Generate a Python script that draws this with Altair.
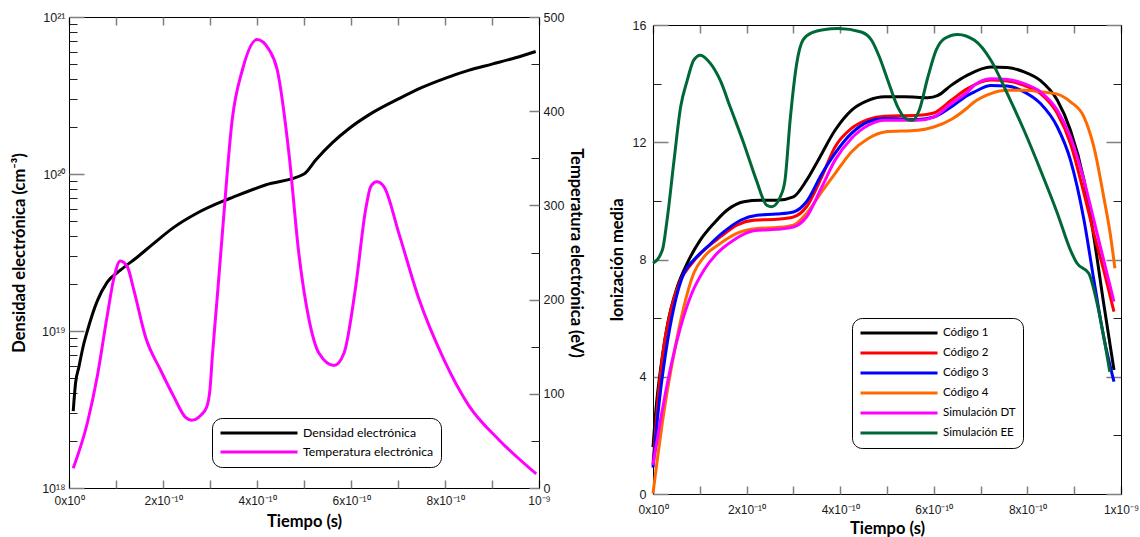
import altair as alt
import pandas as pd

# ---------------- Left panel data (time in units of 1e-10 s) ----------------
t_dens = [0.09, 0.14, 0.21, 0.30, 0.39, 0.60, 0.81, 1.10, 1.45, 1.81, 2.23, 2.72, 3.30,
          3.47, 4.18, 5.00, 5.25, 5.60, 5.96, 6.45, 7.02, 7.50, 8.00, 8.50, 9.00, 9.50, 9.93]
n_dens = [3.09e18, 4.68e18, 5.89e18, 7.94e18, 1.00e19, 1.55e19, 2.04e19, 2.45e19, 2.95e19,
          3.63e19, 4.57e19, 5.62e19, 6.76e19, 7.08e19, 8.51e19, 1.00e20, 1.23e20, 1.58e20,
          1.95e20, 2.45e20, 3.02e20, 3.55e20, 4.07e20, 4.57e20, 5.01e20, 5.50e20, 6.03e20]

t_temp = [0.09, 0.39, 0.60, 0.81, 0.96, 1.09, 1.24, 1.38, 1.63, 1.95, 2.23, 2.48, 2.61, 2.80,
          2.93, 3.00, 3.05, 3.15, 3.28, 3.47, 3.69, 4.00, 4.26, 4.43, 4.68, 4.89, 5.11, 5.32,
          5.64, 5.85, 6.10, 6.31, 6.42, 6.55, 6.70, 7.02, 7.45, 7.98, 8.50, 9.15, 9.94]
T_temp = [21, 69, 118, 182, 224, 241, 235, 210, 160, 125, 97, 75, 72, 77,
          86, 105, 140, 200, 281, 390, 444, 476, 465, 444, 355, 249, 178, 143,
          130, 143, 214, 295, 320, 325, 320, 270, 200, 136, 88, 51, 15]

left_series = ["Densidad electrónica", "Temperatura electrónica"]
left_colors = ["#000000", "#ff00ff"]

# ---------------- Right panel data ----------------
t_c1 = [0, 0.07, 0.16, 0.30, 0.52, 0.73, 1.01, 1.30, 1.58, 1.94, 2.29, 2.64, 3.00, 3.28, 3.53,
        3.89, 4.24, 4.60, 4.95, 5.38, 5.87, 6.09, 6.37, 6.72, 7.22, 7.57, 7.93, 8.28, 8.64,
        8.92, 9.21, 9.42, 9.63, 9.85]
v_c1 = [1.6, 3.0, 4.23, 5.7, 7.07, 7.87, 8.66, 9.23, 9.68, 9.97, 10.02, 10.02, 10.14, 10.7,
        11.39, 12.41, 13.09, 13.43, 13.55, 13.55, 13.52, 13.6, 13.94, 14.29, 14.57, 14.55,
        14.4, 14.1, 13.43, 12.41, 10.7, 8.77, 6.5, 4.23]

t_c2 = [0, 0.13, 0.23, 0.38, 0.59, 0.80, 1.09, 1.44, 1.79, 2.15, 2.64, 3.00, 3.28, 3.60, 3.89,
        4.24, 4.60, 4.95, 5.66, 6.00, 6.37, 6.72, 7.22, 7.57, 7.93, 8.28, 8.64, 8.92, 9.21,
        9.42, 9.63, 9.85]
v_c2 = [1.0, 3.66, 5.02, 6.27, 7.3, 7.81, 8.32, 8.77, 9.17, 9.34, 9.37, 9.45, 9.8, 10.8, 11.84,
        12.47, 12.78, 12.89, 12.92, 13.0, 13.43, 13.83, 14.12, 14.09, 13.94, 13.66, 12.98,
        11.96, 10.25, 8.89, 7.64, 6.22]

t_c3 = [0, 0.13, 0.27, 0.45, 0.66, 0.87, 1.16, 1.51, 1.87, 2.22, 2.64, 3.00, 3.28, 3.60, 3.89,
        4.24, 4.60, 4.95, 5.66, 6.00, 6.37, 6.72, 6.87, 7.22, 7.57, 7.93, 8.28, 8.64, 8.92,
        9.21, 9.42, 9.63, 9.85]
v_c3 = [0.9, 3.1, 4.8, 6.39, 7.53, 7.98, 8.43, 8.94, 9.34, 9.51, 9.55, 9.62, 9.97, 10.9, 11.62,
        12.3, 12.7, 12.81, 12.78, 12.86, 13.2, 13.6, 13.72, 13.94, 13.92, 13.72, 13.32, 12.52,
        11.39, 9.34, 7.3, 5.36, 3.83]

t_c4 = [0, 0.23, 0.45, 0.66, 0.87, 1.09, 1.44, 1.79, 2.22, 2.64, 3.00, 3.28, 3.60, 3.89, 4.24,
        4.60, 4.95, 5.66, 6.00, 6.40, 6.70, 6.87, 7.22, 7.57, 7.93, 8.28, 8.64, 8.92, 9.21,
        9.42, 9.63, 9.78, 9.87]
v_c4 = [0.02, 2.76, 4.8, 6.39, 7.53, 8.09, 8.55, 8.89, 9.06, 9.09, 9.17, 9.57, 10.3, 10.93,
        11.67, 12.13, 12.35, 12.41, 12.52, 12.8, 13.15, 13.38, 13.66, 13.77, 13.77, 13.72,
        13.64, 13.38, 12.86, 11.84, 10.14, 8.77, 7.7]

t_dt = [0, 0.16, 0.38, 0.59, 0.80, 1.09, 1.37, 1.72, 2.15, 2.64, 3.00, 3.28, 3.60, 3.89, 4.24,
        4.60, 4.95, 5.66, 6.00, 6.37, 6.72, 6.87, 7.22, 7.57, 7.93, 8.28, 8.64, 8.92, 9.21,
        9.42, 9.63, 9.85]
v_dt = [0.99, 2.52, 4.34, 5.7, 6.73, 7.64, 8.21, 8.66, 8.98, 9.03, 9.11, 9.45, 10.45, 11.39,
        12.13, 12.58, 12.75, 12.75, 12.86, 13.32, 13.72, 13.95, 14.17, 14.14, 14.0, 13.72,
        13.09, 12.18, 10.7, 9.34, 7.98, 6.56]

t_ee = [0, 0.20, 0.30, 0.45, 0.59, 0.73, 0.87, 1.01, 1.23, 1.44, 1.65, 1.94, 2.21, 2.43, 2.54,
        2.72, 2.82, 2.93, 3.07, 3.21, 3.43, 3.64, 3.96, 4.45, 4.67, 4.84, 5.02, 5.23, 5.41,
        5.55, 5.69, 5.87, 6.05, 6.23, 6.51, 6.87, 7.22, 7.57, 7.93, 8.28, 8.64, 8.92, 9.06,
        9.31, 9.49, 9.63, 9.76]
v_ee = [7.87, 8.32, 9.34, 11.39, 13.2, 14.1, 14.8, 14.97, 14.68, 14.1, 13.2, 11.96, 10.7, 9.85,
        9.8, 10.14, 10.7, 12.75, 14.68, 15.5, 15.76, 15.84, 15.88, 15.76, 15.48, 14.9, 14.1,
        13.2, 12.8, 12.75, 13.1, 14.2, 15.14, 15.54, 15.68, 15.48, 14.8, 13.66, 12.4, 11.05,
        9.58, 8.32, 7.87, 7.53, 6.5, 5.37, 4.17]

right_series = ["Código 1", "Código 2", "Código 3", "Código 4", "Simulación DT", "Simulación EE"]
right_colors = ["#000000", "#ff0000", "#0000ff", "#ff6a00", "#ff00ff", "#006837"]

# ---------------- Ticks and labels ----------------
x_tick_values = [0, 2, 4, 6, 8, 10]
x_minor_values = [0, 1, 2, 3, 4, 5, 6, 7, 8, 9, 10]
x_labels_left = ["0x10⁰", "2x10⁻¹⁰", "4x10⁻¹⁰", "6x10⁻¹⁰", "8x10⁻¹⁰", "10⁻⁹"]
x_labels_right = ["0x10⁰", "2x10⁻¹⁰", "4x10⁻¹⁰", "6x10⁻¹⁰", "8x10⁻¹⁰", "1x10⁻⁹"]
dens_tick_values = [1e18, 1e19, 1e20, 1e21]
dens_tick_labels = ["10¹⁸", "10¹⁹", "10²⁰", "10²¹"]
dens_minor_values = [m * 10.0 ** e for e in (18, 19, 20) for m in range(2, 10)]
temp_tick_values = [0, 100, 200, 300, 400, 500]
temp_minor_values = [50, 150, 250, 350, 450]
ion_tick_values = [0, 4, 8, 12, 16]
ion_minor_values = [2, 6, 10, 14]

LABEL_FONT = "Liberation Sans"
TITLE_FONT = "Lato"
TITLE_SIZE = 16.5


def label_expr(values, labels):
    vals = ",".join(str(v) for v in values)
    labs = ",".join("'" + s + "'" for s in labels)
    return f"[{labs}][indexof([{vals}], datum.value)]"


def dens_label_expr():
    parts = "datum.value >= 1e21 ? '%s' : datum.value >= 1e20 ? '%s' : datum.value >= 1e19 ? '%s' : '%s'"
    return parts % (dens_tick_labels[3], dens_tick_labels[2], dens_tick_labels[1], dens_tick_labels[0])


def tick_axis(orient, offset, values, size, color="#7f7f7f", width=1.5, domain=False):
    return alt.Axis(orient=orient, offset=offset, values=values, labels=False, domain=domain,
                    domainColor="#000000", domainWidth=1,
                    ticks=True, tickSize=size, tickColor=color, tickWidth=width, grid=False,
                    title=None)


def main_axis(orient, values, expr, title, label_pad=4, title_pad=6, label_size=12.5):
    return alt.Axis(orient=orient, values=values, labelExpr=expr, ticks=False, grid=False,
                    domain=True, domainColor="#000000", domainWidth=1, labelFlush=False,
                    labelFont=LABEL_FONT, labelFontSize=label_size, labelColor="#1a1a1a",
                    labelPadding=label_pad, title=title, titleFont=TITLE_FONT,
                    titleFontSize=TITLE_SIZE, titleFontWeight="bold", titleColor="#000000",
                    titlePadding=title_pad)


def legend(x, y, row_pad, font_size):
    return alt.Legend(orient="none", legendX=x, legendY=y, title=None,
                      strokeColor="#000000", cornerRadius=10, padding=7,
                      fillColor="#ffffff", symbolType="stroke",
                      symbolSize=5929, symbolStrokeWidth=3, clipHeight=16,
                      rowPadding=row_pad, labelFont=TITLE_FONT, labelFontSize=font_size,
                      labelOffset=4, labelLimit=300, labelColor="#000000")


# ---------------- Left panel ----------------
W1, H1 = 470, 471
dens_df = pd.DataFrame({"t": t_dens, "v": n_dens, "serie": left_series[0]})
temp_df = pd.DataFrame({"t": t_temp, "v": T_temp, "serie": left_series[1]})

xs1 = alt.Scale(domain=[0, 10], nice=False, zero=False)
ys_dens = alt.Scale(type="log", domain=[1e18, 1e21], nice=False)
ys_temp = alt.Scale(domain=[0, 500], nice=False, zero=False)
color_left = alt.Color("serie:N", scale=alt.Scale(domain=left_series, range=left_colors),
                       legend=legend(143, 401, 3, 12.3))

dens_line = alt.Chart(dens_df).mark_line(strokeWidth=3, interpolate="monotone").encode(
    x=alt.X("t:Q", scale=xs1, axis=main_axis("bottom", x_tick_values,
                                              label_expr(x_tick_values, x_labels_left),
                                              "Tiempo (s)", 7, 7, 12)),
    y=alt.Y("v:Q", scale=ys_dens, axis=main_axis("left", dens_tick_values, dens_label_expr(),
                                                 "Densidad electrónica (cm⁻³)", 4, 14)),
    color=color_left,
)
dens_ticks_a = alt.Chart(dens_df).mark_line(strokeOpacity=0).encode(
    x=alt.X("t:Q", scale=xs1, axis=tick_axis("top", -H1, x_minor_values, 8)),
    y=alt.Y("v:Q", scale=ys_dens, axis=tick_axis("right", -W1, dens_tick_values, 15)),
)
dens_ticks_b = alt.Chart(dens_df).mark_line(strokeOpacity=0).encode(
    x=alt.X("t:Q", scale=xs1, axis=tick_axis("bottom", -H1, x_minor_values, 8)),
    y=alt.Y("v:Q", scale=ys_dens, axis=tick_axis("right", -W1, dens_minor_values, 8, "#222222", 1)),
)
dens_layer = alt.layer(dens_line, dens_ticks_a, dens_ticks_b)

temp_line = alt.Chart(temp_df).mark_line(strokeWidth=3, interpolate="monotone").encode(
    x=alt.X("t:Q", scale=xs1, axis=None),
    y=alt.Y("v:Q", scale=ys_temp, axis=main_axis("right", temp_tick_values, "datum.value",
                                                 "Temperatura electrónica (eV)", 4, 4)),
    color=color_left,
)
temp_ticks_a = alt.Chart(temp_df).mark_line(strokeOpacity=0).encode(
    x=alt.X("t:Q", scale=xs1, axis=None),
    y=alt.Y("v:Q", scale=ys_temp, axis=tick_axis("left", -W1, temp_tick_values, 10)),
)
temp_ticks_b = alt.Chart(temp_df).mark_line(strokeOpacity=0).encode(
    x=alt.X("t:Q", scale=xs1, axis=None),
    y=alt.Y("v:Q", scale=ys_temp, axis=tick_axis("left", -W1, temp_minor_values, 8, "#222222", 1)),
)
temp_layer = alt.layer(temp_line, temp_ticks_a, temp_ticks_b)

left = alt.layer(dens_layer, temp_layer).resolve_scale(y="independent").properties(
    width=W1, height=H1)

# ---------------- Right panel ----------------
# the plot frame of this panel starts TOP2 px lower than the left one
W2, H2, TOP2 = 468, 477, 8
frames = []
for name, tt, vv in zip(right_series, [t_c1, t_c2, t_c3, t_c4, t_dt, t_ee],
                        [v_c1, v_c2, v_c3, v_c4, v_dt, v_ee]):
    frames.append(pd.DataFrame({"t": tt, "v": vv, "serie": name}))
ion_df = pd.concat(frames, ignore_index=True)

xs2 = alt.Scale(domain=[0, 10], nice=False, zero=False)
ys2 = alt.Scale(domain=[0, 16], nice=False, zero=False, range=[H2, TOP2])

ion_lines = alt.Chart(ion_df).mark_line(strokeWidth=3, interpolate="monotone").encode(
    x=alt.X("t:Q", scale=xs2, axis=main_axis("bottom", x_tick_values,
                                              label_expr(x_tick_values, x_labels_right),
                                              "Tiempo (s)", 10, 5, 12)),
    y=alt.Y("v:Q", scale=ys2, axis=main_axis("left", ion_tick_values, "datum.value",
                                             "Ionización media", 7, 7)),
    color=alt.Color("serie:N", scale=alt.Scale(domain=right_series, range=right_colors),
                    legend=legend(199, 301, 4, 11.5)),
    detail="serie:N",
)
ion_ticks_a = alt.Chart(ion_df).mark_line(strokeOpacity=0).encode(
    x=alt.X("t:Q", scale=xs2, axis=tick_axis("top", -H2, x_minor_values, 8)),
    y=alt.Y("v:Q", scale=ys2, axis=tick_axis("right", -W2, ion_tick_values, 15)),
    detail="serie:N",
)
ion_ticks_b = alt.Chart(ion_df).mark_line(strokeOpacity=0).encode(
    x=alt.X("t:Q", scale=xs2, axis=tick_axis("bottom", -(H2 - TOP2), x_minor_values, 8,
                                              domain=True)),
    y=alt.Y("v:Q", scale=ys2, axis=tick_axis("left", -W2, ion_tick_values, 15, domain=True)),
    detail="serie:N",
)
ion_ticks_c = alt.Chart(ion_df).mark_line(strokeOpacity=0).encode(
    x=alt.X("t:Q", scale=xs2, axis=None),
    y=alt.Y("v:Q", scale=ys2, axis=tick_axis("right", -W2, ion_minor_values, 8, "#222222", 1)),
    detail="serie:N",
)
ion_ticks_d = alt.Chart(ion_df).mark_line(strokeOpacity=0).encode(
    x=alt.X("t:Q", scale=xs2, axis=None),
    y=alt.Y("v:Q", scale=ys2, axis=tick_axis("left", -W2, ion_minor_values, 8, "#222222", 1)),
    detail="serie:N",
)
right = alt.layer(ion_lines, ion_ticks_a, ion_ticks_b, ion_ticks_c, ion_ticks_d).properties(
    width=W2, height=H2,
    view=alt.ViewBackground(stroke="transparent"),
)

chart = alt.hconcat(left, right, spacing=23).resolve_scale(color="independent").properties(
    padding={"left": 11, "top": 10, "right": 0, "bottom": 0},
    background="#ffffff",
).configure_view(stroke="#000000", strokeWidth=1)

chart.save("out.html", embed_options={"renderer": "svg", "actions": False})
